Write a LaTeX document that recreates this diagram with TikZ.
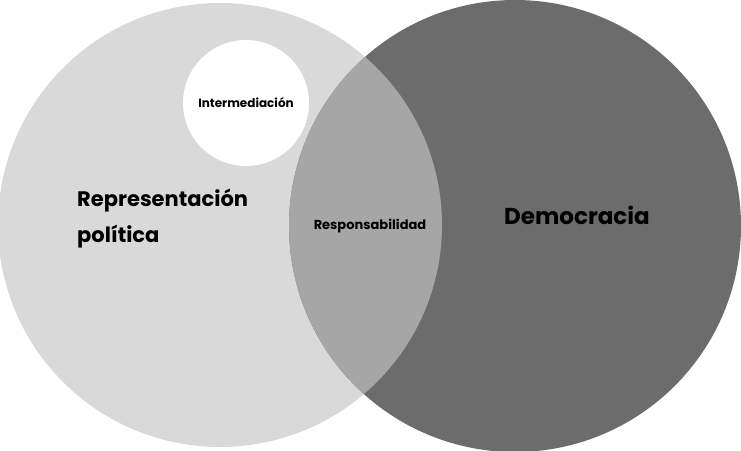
\documentclass[tikz,border=0pt]{standalone}
\usepackage{fontspec}
\setmainfont{Poppins}
\begin{document}
\begin{tikzpicture}[x=1pt,y=-1pt,
  lbl/.style={font=\bfseries, text=black, inner sep=0pt}]
\useasboundingbox (0,0) rectangle (741,450);
\fill[white] (0,0) rectangle (741,450);
\path[fill={rgb,255:red,217;green,217;blue,217}] (220,225) circle (222);
\path[fill={rgb,255:red,108;green,108;blue,108}] (515,226) circle (226);
\begin{scope}
  \clip (220,225) circle (222);
  \fill[fill={rgb,255:red,166;green,166;blue,166}] (515,226) circle (226);
\end{scope}
\fill[white] (246,103) circle (63);
\node[lbl, font=\bfseries\fontsize{12}{14}\selectfont] (inter) at (246,103) {Intermediación};
\node[lbl, font=\bfseries\fontsize{21}{36}\selectfont, align=left, anchor=west] (rep) at (77,219) {Representación\\política};
\node[lbl, font=\bfseries\fontsize{13}{15}\selectfont] (resp) at (370,226) {Responsabilidad};
\node[lbl, font=\bfseries\fontsize{23}{27}\selectfont] (dem) at (577,215) {Democracia};
\end{tikzpicture}
\end{document}
